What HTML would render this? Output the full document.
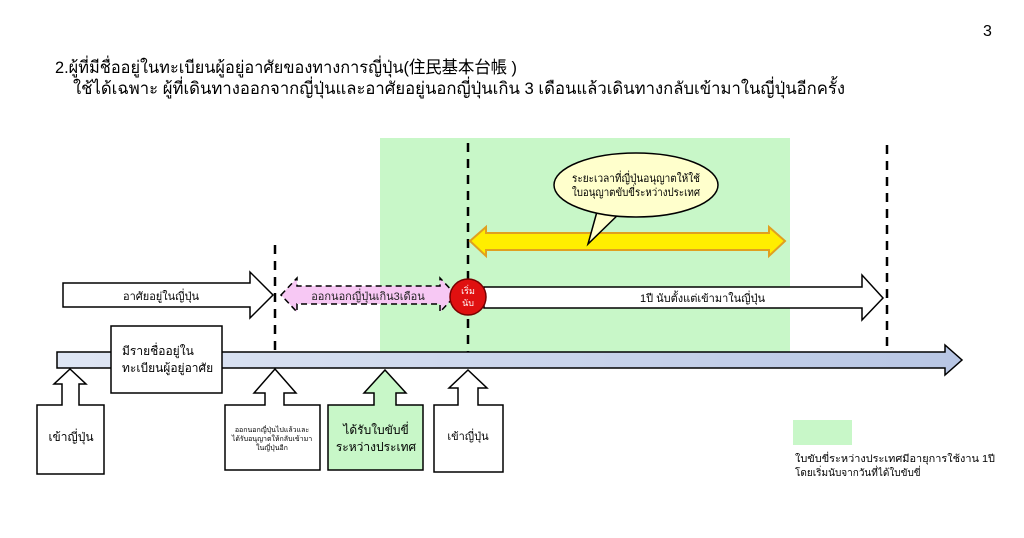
<!DOCTYPE html>
<html><head><meta charset="utf-8"><style>
html,body{margin:0;padding:0;background:#fff;}
svg{display:block;font-family:"Liberation Sans","Noto Sans CJK JP","DejaVu Sans",sans-serif;}
</style></head><body>
<svg width="1024" height="538" viewBox="0 0 1024 538" xmlns="http://www.w3.org/2000/svg">
<defs>
<linearGradient id="bar" x1="0" y1="0" x2="1" y2="0">
<stop offset="0" stop-color="#dfe6f4"/><stop offset="1" stop-color="#b8c6e4"/>
</linearGradient>
</defs>
<text x="983" y="36" font-size="16">3</text>
<text x="55" y="73" font-size="17" textLength="462" lengthAdjust="spacingAndGlyphs">2.ผู้ที่มีชื่ออยู่ในทะเบียนผู้อยู่อาศัยของทางการญี่ปุ่น(住民基本台帳 )</text>
<text x="73" y="94" font-size="17" textLength="772" lengthAdjust="spacingAndGlyphs">ใช้ได้เฉพาะ ผู้ที่เดินทางออกจากญี่ปุ่นและอาศัยอยู่นอกญี่ปุ่นเกิน 3  เดือนแล้วเดินทางกลับเข้ามาในญี่ปุ่นอีกครั้ง</text>

<rect x="380" y="138" width="410" height="214" fill="#c8f7c8"/>

<g stroke="#000" stroke-width="2.5" stroke-dasharray="9,7">
<line x1="275" y1="245" x2="275" y2="352"/>
<line x1="468" y1="143" x2="468" y2="352"/>
<line x1="887" y1="145" x2="887" y2="350"/>
</g>

<!-- timeline -->
<path d="M57 352 H945 V345 L962 360 L945 375 V368 H57 Z" fill="url(#bar)" stroke="#000" stroke-width="1.5"/>

<!-- yellow double arrow -->
<path d="M470 241 L486 227 V233 H769 V227 L785 241 L769 256 V250 H486 V256 Z" fill="#ffee00" stroke="#e0a020" stroke-width="2"/>

<!-- speech bubble -->
<path d="M598 208 L588 244 L625 208 Z" fill="#ffffcc" stroke="#000" stroke-width="1.5"/>
<ellipse cx="636" cy="185" rx="82" ry="32" fill="#ffffcc" stroke="#000" stroke-width="1.5"/>
<text x="636" y="182" font-size="11" text-anchor="middle" textLength="128" lengthAdjust="spacingAndGlyphs">ระยะเวลาที่ญี่ปุ่นอนุญาตให้ใช้</text>
<text x="636" y="196" font-size="11" text-anchor="middle" textLength="128" lengthAdjust="spacingAndGlyphs">ใบอนุญาตขับขี่ระหว่างประเทศ</text>

<!-- left white arrow -->
<path d="M63 283 H250 V272 L273 295 L250 318 V307 H63 Z" fill="#fff" stroke="#000" stroke-width="1.5"/>
<text x="161" y="300" font-size="11" text-anchor="middle">อาศัยอยู่ในญี่ปุ่น</text>

<!-- pink dashed double arrow -->
<path d="M281 295 L297 278 V286 H440 V278 L456 295 L440 312 V304 H297 V312 Z" fill="#f7c8f4" stroke="#000" stroke-width="1.5" stroke-dasharray="6,4"/>
<text x="368" y="300" font-size="11" text-anchor="middle" fill="#222">ออกนอกญี่ปุ่นเกิน3เดือน</text>

<!-- right white arrow -->
<path d="M484 287 H862 V275 L883 298 L862 320 V308 H484 Z" fill="#fff" stroke="#000" stroke-width="1.5"/>
<text x="640" y="302" font-size="11">1ปี นับตั้งแต่เข้ามาในญี่ปุ่น</text>

<!-- red circle -->
<circle cx="468" cy="297" r="18" fill="#e01010" stroke="#700" stroke-width="1.5"/>
<text x="468" y="294" font-size="9" fill="#fff" text-anchor="middle">เริ่ม</text>
<text x="468" y="306" font-size="9" fill="#fff" text-anchor="middle">นับ</text>

<!-- registration box -->
<rect x="111" y="326" width="111" height="67" fill="#fff" stroke="#000" stroke-width="1.5"/>
<text x="122" y="355" font-size="12">มีรายชื่ออยู่ใน</text>
<text x="122" y="372" font-size="12">ทะเบียนผู้อยู่อาศัย</text>

<!-- up arrows with boxes -->
<g stroke="#000" stroke-width="1.5">
<path d="M70 369 L86 384 H79 V405 H104 V474 H37 V405 H62 V384 H54 Z" fill="#fff"/>
<path d="M275 369 L296 393 H284 V405 H320 V470 H225 V405 H265 V393 H254 Z" fill="#fff"/>
<path d="M385 370 L406 393 H396 V405 H423 V470 H328 V405 H374 V393 H364 Z" fill="#c8f7c8"/>
<path d="M468 370 L487 388 H478 V405 H503 V472 H434 V405 H458 V388 H449 Z" fill="#fff"/>
</g>
<text x="71" y="441" font-size="12" text-anchor="middle">เข้าญี่ปุ่น</text>
<text x="272" y="432" font-size="7" text-anchor="middle">ออกนอกญี่ปุ่นไปแล้วและ</text>
<text x="272" y="441" font-size="7" text-anchor="middle">ได้รับอนุญาตให้กลับเข้ามา</text>
<text x="272" y="450" font-size="7" text-anchor="middle">ในญี่ปุ่นอีก</text>
<text x="376" y="434" font-size="12" text-anchor="middle">ได้รับใบขับขี่</text>
<text x="376" y="451" font-size="12" text-anchor="middle">ระหว่างประเทศ</text>
<text x="468" y="440" font-size="11" text-anchor="middle">เข้าญี่ปุ่น</text>

<!-- legend -->
<rect x="793" y="420" width="59" height="25" fill="#c8f7c8"/>
<text x="795" y="462" font-size="10" textLength="200" lengthAdjust="spacingAndGlyphs">ใบขับขี่ระหว่างประเทศมีอายุการใช้งาน 1ปี</text>
<text x="795" y="476" font-size="10">โดยเริ่มนับจากวันที่ได้ใบขับขี่</text>
</svg>
</body></html>
